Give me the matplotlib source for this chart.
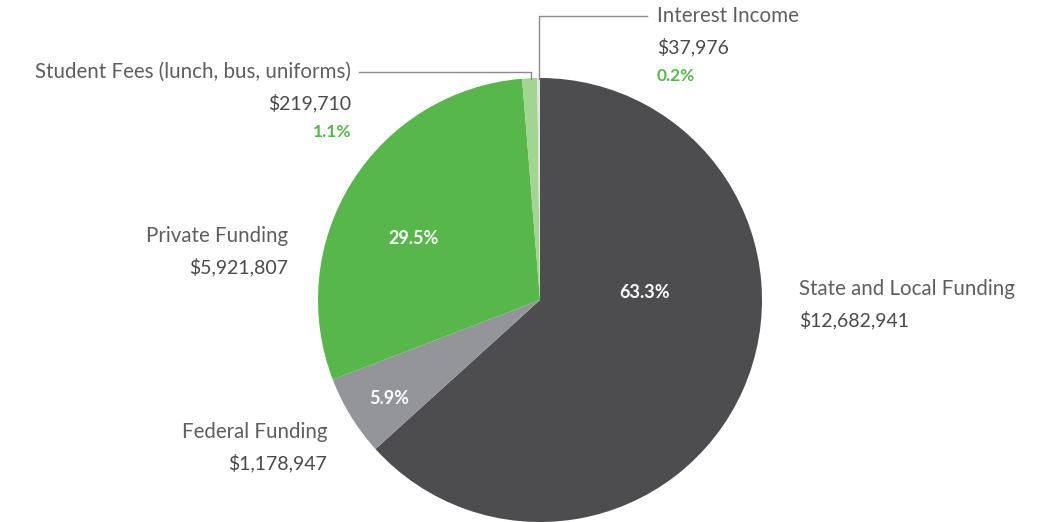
import matplotlib
matplotlib.use("Agg")
import matplotlib.pyplot as plt

# ---- data ----
sources = ["State and Local Funding", "Federal Funding", "Private Funding",
           "Student Fees (lunch, bus, uniforms)", "Interest Income"]
amounts = [12682941, 1178947, 5921807, 219710, 37976]
pcts = ["63.3%", "5.9%", "29.5%", "1.1%", "0.2%"]

DARK, GRAY, GREEN, LGREEN, PALE = "#4d4d4f", "#939598", "#57b74b", "#a2d58f", "#e4e4e4"
TXT, AMT, LINE = "#5d5e60", "#4a4a4c", "#8a8a8a"
plt.rcParams["font.family"] = ["Lato", "DejaVu Sans"]

W, H = 1046, 522
fig = plt.figure(figsize=(W / 100, H / 100), dpi=100)
ax = fig.add_axes([0, 0, 1, 1])

cx, cy, r = 540, 300, 222
# y axis is inverted below, so startangle -90 / counterclock draws clockwise from the top
wedges, _ = ax.pie(amounts, colors=[DARK, GRAY, GREEN, LGREEN, PALE], startangle=-90,
                   counterclock=True, center=(cx, cy), radius=r, frame=True)
ax.set_xlim(0, W)
ax.set_ylim(H, 0)
ax.set_aspect("equal")
ax.axis("off")

fmt = lambda v: f"${v:,}"

# inside percentages
for (x, y), p in zip([(645, 292), (389, 398), (414, 239)], pcts[:3]):
    ax.text(x, y, p, color="white", fontsize=13, fontweight="bold", ha="center", va="center")

# outer labels
def label(x, y, name, val, pct=None, ha="left"):
    ax.text(x, y, name, color=TXT, fontsize=14.8, ha=ha, va="center")
    ax.text(x, y + 31, fmt(val), color=AMT, fontsize=14, ha=ha, va="center")
    if pct:
        ax.text(x, y + 60, pct, color=GREEN, fontsize=12.5, fontweight="bold", ha=ha, va="center")

label(799, 289, sources[0], amounts[0])
label(327, 432, sources[1], amounts[1], ha="right")
label(288, 236, sources[2], amounts[2], ha="right")
label(351, 72, sources[3], amounts[3], pcts[3], ha="right")
label(657, 16, sources[4], amounts[4], pcts[4])

# leader lines
ax.plot([531, 531, 359], [79, 72, 72], color=LINE, lw=1)
ax.plot([539, 539, 647], [79, 16, 16], color=LINE, lw=1)

fig.savefig("out.png", dpi=100)
